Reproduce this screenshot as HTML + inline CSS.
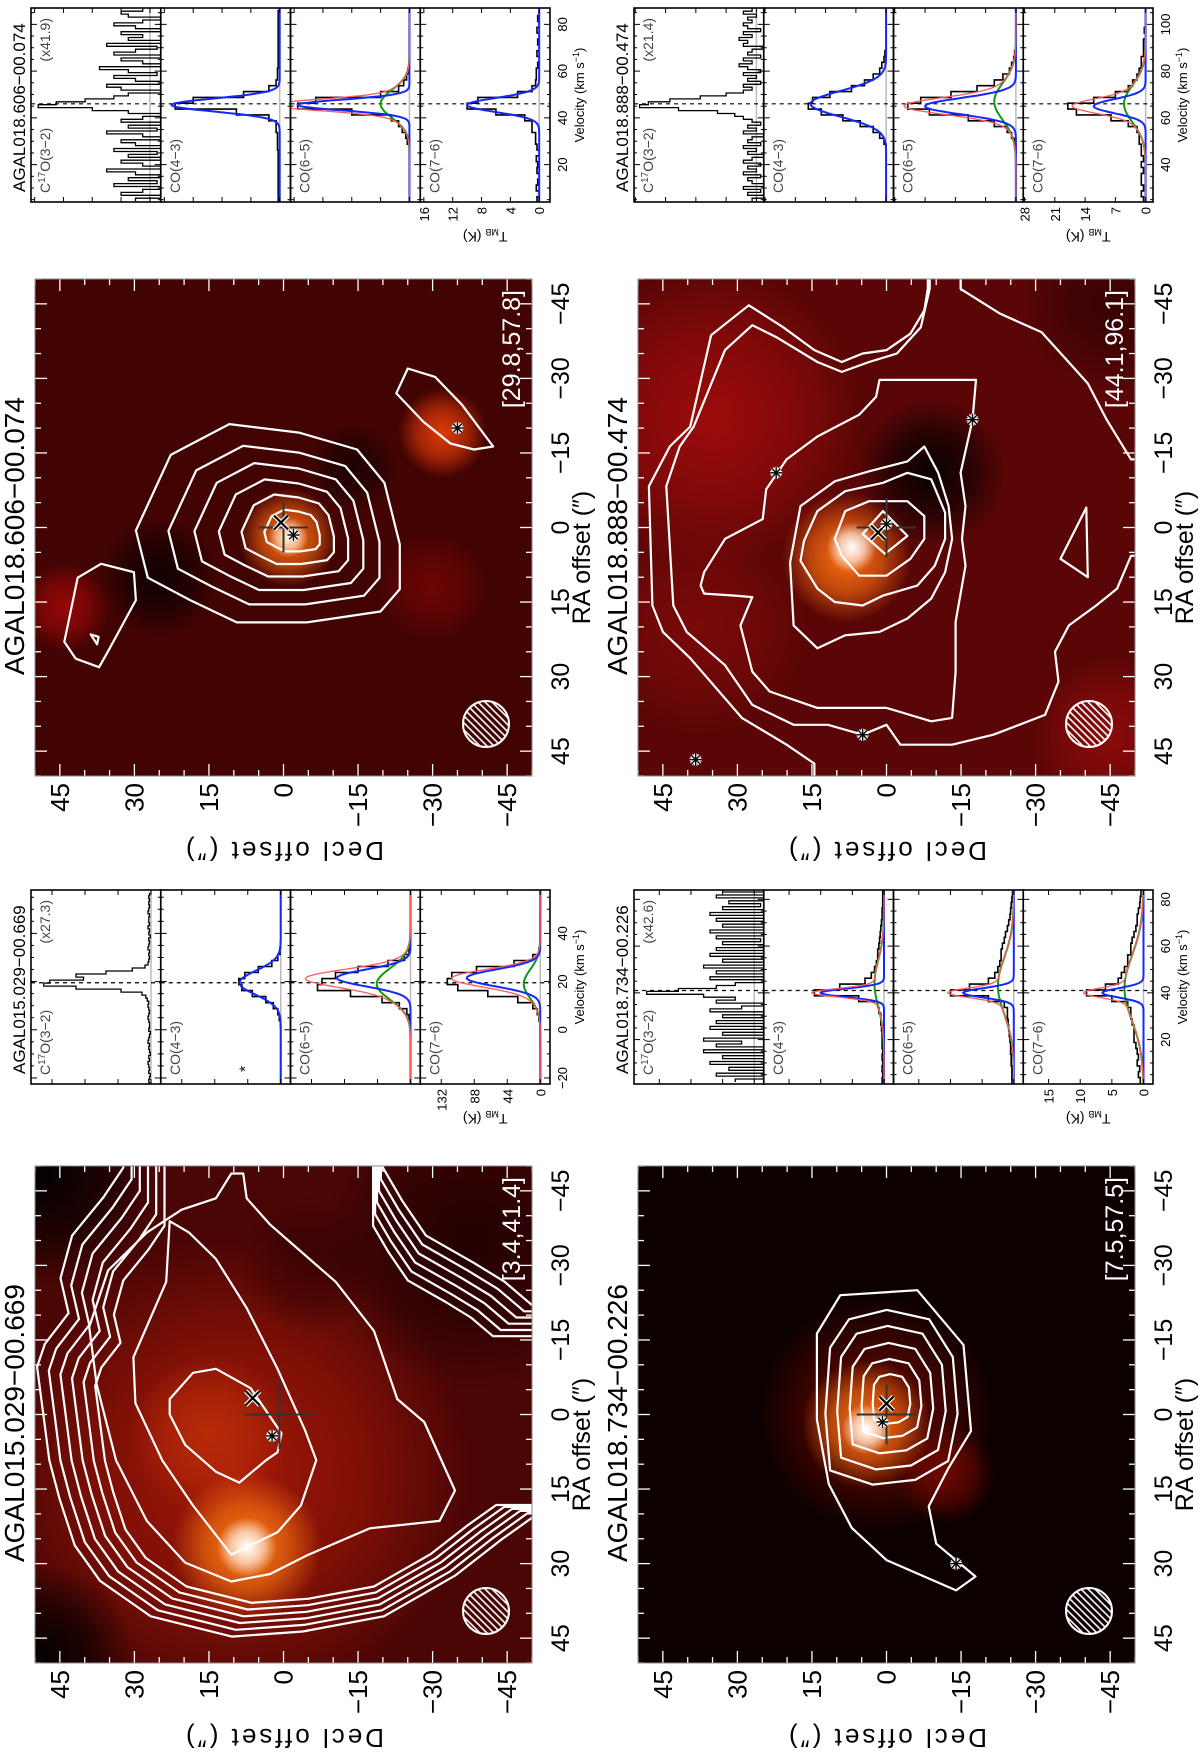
<!DOCTYPE html>
<html><head><meta charset="utf-8">
<style>
html,body{margin:0;padding:0;background:#fff;width:1200px;height:1753px;overflow:hidden}
#rot{position:absolute;left:0;top:0;width:1753px;height:1200px;transform-origin:0 0;transform:translateY(1753px) rotate(-90deg);overflow:hidden}
text{font-family:"Liberation Sans",sans-serif}
</style></head>
<body>
<div id="rot">
<svg id="fig" width="1753" height="1200" xmlns="http://www.w3.org/2000/svg" style="overflow:hidden"><defs id="defs"></defs></svg>
</div>
<script>
// ---------------- DATA ----------------
const vel015 = [-22.5, 2.5];
const vel606 = [5, 2.5];
const vel888 = [25, 2.5];
const vel734 = [2.5, 2.5];
const c17oStep = 1.25;
const vr015 = [-22.5, 58];
const vr606 = [4, 87];
const vr888 = [24, 107];
const vr734 = [1, 84];
const tr015 = [-13, 160];
const tr606 = [-1.5, 16.5];
const tr888 = [-1.7, 28.3];
const tr734 = [-1.5, 19];
const vt015 = [-20, 0, 20, 40];
const vt606 = [20, 40, 60, 80];
const vt888 = [40, 60, 80, 100];
const vt734 = [20, 40, 60, 80];
const tt015 = [0, 44, 88, 132];
const tt606 = [0, 4, 8, 12, 16];
const tt888 = [0, 7, 14, 21, 28];
const tt734 = [0, 5, 10, 15];
const vlsr = [19.5, 46, 41, 66];
const c17o015 = [2,3,2,1,3,2,3,4,2,3,1,2,3,2,4,3,2,1,3,2,2,3,4,3,2,3,4,3,5,7,12,40,100,143,135,90,100,60,25,8,4,3,2,3,2,4,3,2,3,1,3,2,4,2,3,3,2,4,3,2,3,2,3,2];
const co43015 = [0,0,0,0,0,0,0,0,0,0,0.5,2,4,10,20,38,52,56,48,30,12,4,1,0.5,0,0,0,0,0,0,0,0,0];
const co65015 = [0,0,0,0,0,0,0,0,0,0,0.5,2,5,15,38,80,124,118,100,70,30,8,2,0.5,0,0,0,0,0,0,0,0,0];
const co76015 = [0,0,0,0,0,0,0,0,0,0,0.5,2,4,10,30,70,110,124,118,85,35,10,2,0.5,0,0,0,0,0,0,0,0,0];
const c17o606 = [2,-3,4,1,-2,5,-1,3,-4,2,6,-2,1,4,-3,3,-1,5,-2,2,4,-3,1,6,-1,3,-2,4,1,-3,3,8,15.5,13,9,5,3,-2,4,6,-3,2,5,-1,3,7,-2,1,4,-3,5,2,-1,6,-2,3,1,4,-3,2,5,1,-2,3,4,1];
const co43606 = [0.2,0.2,0.2,0.2,0.2,0.2,0.2,0.2,0.2,0.3,0.3,0.3,0.5,0.5,1.5,6,14.5,12,5,1.5,0.5,0.3,0.3,0.2,0.2,0.2,0.2,0.2,0.2,0.2,0.2,0.2,0.2];
const co65606 = [0,0,0,0,0,0,0,0,0,0,0.3,0.5,1,1.5,2.5,8,15.5,13,4,1.5,0.8,0.4,0.2,0,0,0,0,0,0,0,0,0,0];
const co76606 = [0.3,0,0.4,0.2,0,0.3,0.2,0.4,0,0.3,0.5,0.5,1,1,2,6,10,8.5,3,1,0.5,0.4,0.4,0.2,0,0.3,0,0.2,0,0.3,0,0.2,0];
const c17o888 = [1,-2,2,-1,3,-2,1,2,-1,3,0,2,-1,3,1,-2,2,0,3,-1,2,1,-2,3,0,2,-1,1,3,5,9,18,27,25,20,13,7,3,1,3,-1,2,0,3,-1,2,4,1,3,-1,2,1,-2,3,2,4,1,3,-1,2,3,1,2,0,3,1];
const co43888 = [0,0,0,0,0,0,0,0,0,0,0.5,1.5,3,6,10,15,18,17,13,8,5,3,1.5,1,0.5,0.3,0,0,0,0,0,0,0];
const co65888 = [0,0,0,0,0,0,0,0,0,0,0.3,1,2,5,11,20,25,22,15,9,5,3,1.5,1,0.5,0.3,0,0,0,0,0,0,0];
const co76888 = [0.5,1,0.5,1,1,0.5,1,0.5,1,1,1.5,1.5,2,4,8,16,18,12,7,4,3,2,1.5,1,1,0.5,0.5,0.5,0,0.3,0,0,0];
const c17o734 = [3,-2,6,-3,4,-4,7,-2,5,-3,8,-4,6,2,8,-3,5,-4,7,-2,6,-3,5,-4,7,2,-3,6,3,8,17,12,6,3,-3,7,-4,6,-2,8,-3,5,-4,7,-2,6,-3,5,-1,6,-4,7,-2,5,-3,6,-2,7,-3,5,-1,4,-2,6,-3,5];
const co43734 = [0.3,0.2,0.3,0.2,0.3,0.2,0.3,0.3,0.3,0.4,0.5,0.5,0.8,1,4,11,7,3,2,1.5,1.2,1,1,0.8,0.7,0.6,0.5,0.4,0.3,0.3,0.2,0.2,0.2];
const co65734 = [0.3,0.3,0.3,0.4,0.4,0.5,0.5,0.6,0.7,0.8,0.9,1,1,1.5,4,10,7,4,3,2.5,2.2,2,2,1.8,1.5,1.3,1,0.8,0.6,0.5,0.4,0.3,0.2];
const co76734 = [0.5,0.8,0.6,1,0.8,1,1.2,1.5,1.5,1.5,1.8,2,2,2.5,5,9,6,4,3.5,3,2.5,2.5,2,2,1.8,1.5,1.2,1,1,0.8,0.6,0.5,0.4];
const fitBlue015 = [[55,19.5,5],[98,21.5,3.5],[98,21.5,3.5]];
const fitGreen015 = [null,[45,19,6.5],[22,19,6]];
const fitBlue606 = [[15,45.5,2.8],[15.5,45.5,2.3],[10,45.5,3]];
const fitGreen606 = [null,[4,46,6],null];
const fitBlue888 = [[17.5,66,5.5],[21,65,3.5],[12,65,3]];
const fitGreen888 = [null,[5,67,8],[5,66,8]];
const fitBlue734 = [[10,40,1.8],[8,40,2],[6.5,40,2]];
const fitGreen734 = [[1.5,44,10],[2.5,43,12],[3,42,14]];
const scales = ['(x27.3)','(x41.9)','(x42.6)','(x21.4)'];
const names = ['AGAL015.029\u221200.669','AGAL018.606\u221200.074','AGAL018.734\u221200.226','AGAL018.888\u221200.474'];
const brackets = ['[3.4,41.4]','[29.8,57.8]','[7.5,57.5]','[44.1,96.1]'];
const blobs015 = [[12,10,48,'#b01a08',0.85],[4,15,16,'#c03008',0.8],[26.7,7.4,15,'#ff7a10',1],[26.7,7.4,6,'#ffffff',1],[-48,48,22,'#000000',0.95],[48,48,18,'#000000',0.9],[-35,-38,30,'#1a0000',0.8],[-30,-5,14,'#300000',0.6]];
const blobs606 = [[2,-1,10,'#ff6a10',1],[2,-1,4,'#fff2d8',1],[-19,-32,9,'#e03a08',1],[16,44,9,'#a00808',0.9],[12,-30,11,'#8a0606',0.6],[10,25,12,'#000000',0.75],[-12,-14,9,'#000000',0.55]];
const blobs734 = [[0,2,24,'#6a0800',0.9],[12,-12,10,'#900a00',0.7],[2,4,13,'#ff7010',1],[3,4,5,'#ffffff',1]];
const blobs888 = [[-22,35,30,'#a80c0c',0.85],[20,38,22,'#900a0a',0.6],[42,-45,16,'#a00c0c',0.7],[-45,-45,18,'#2a0000',0.7],[-11,-9,15,'#000000',0.9],[6,8,13,'#ff7010',1],[4,7,5,'#ffffff',1]];
const k015 = [
 [[-3.1,22.9],[-8.4,18.2],[-9.2,13.6],[-5.3,6.6],[3.8,0.4],[7.6,1.2],[9.2,3.5],[13.7,8.9],[11.5,13.6],[6.1,19.8],[0,22.9]],
 [[-38.9,22.9],[-26.7,23.6],[-11.5,30.2],[-2.3,29.8],[9.2,24.4],[18.3,18.2],[28.2,10.5],[23.7,1.2],[18.3,-3.5],[9.2,-6.6],[3.1,-4.3],[-9.2,1.2],[-21.4,7.4],[-31.3,13.6],[-36.6,19]],
 [[-48.5,8.1],[-43.5,7.4],[-38.2,2.7],[-32.8,-3.5],[-26.7,-10.5],[-16.8,-18.2],[-3.1,-22.9],[1.5,-28.3],[15.3,-34.5],[21.4,-31.4],[22.9,-17.4],[28.2,-5],[32.1,2.7],[33.6,10.5],[29.8,19.8],[21.4,27.5],[9.2,33.7],[-6.1,37.6],[-17.6,39.1],[-29,35.3],[-36.6,27.5],[-41.2,20.5],[-43.5,13.6],[-48.5,10.5]]
];
const o015 = [[-60,31.4],[-48.5,31.4],[-42.7,35.3],[-35.1,41.5],[-26.7,43.8],[-19.8,42.2],[-13.7,46.9],[-9.2,48.4],[1.5,47],[9.2,46],[16.8,44],[26,41],[33,36],[40,26],[44,10],[43,-4],[40,-20],[32,-34],[25,-43],[20,-50],[20,-150],[150,-150],[150,150],[-150,150],[-150,-150],[-21.4,-150],[-21.4,-49.2],[-26,-43.8],[-29.8,-37.6],[-35.1,-28.3],[-42,-23.6],[-48.5,-19.8],[-150,-19.8],[-150,31.4]];
const o015scale = [0.82, 0.86, 0.9, 0.94, 0.98, 1.02];
const o015centre = [10, -10];
const o606 = [[0.6,29.7],[-14.6,22.7],[-20.8,10.9],[-19.1,-3.1],[-15.7,-14.8],[-9,-20.3],[3.4,-23.4],[12.4,-23.4],[16.9,-19.5],[19.1,-4.7],[19.1,9.4],[14.6,18.8],[10.1,27.3]];
const o606scale = [1, 0.8, 0.64, 0.49, 0.35, 0.21];
const k606 = [
 [[23,44.1],[10.1,41.4],[7.3,36.7],[9,30.1],[14.6,29.7],[24.7,35.2],[28.1,37.1],[26.4,41.8]],
 [[21.5,38.8],[23.5,37.5],[22,37.2]],
 [[-27,-22.7],[-32,-25],[-30.3,-30.5],[-24.7,-35.9],[-16.3,-42.2],[-15.7,-38.3],[-16.9,-33.6],[-21.3,-28.1]]
];
const o734 = [[-16.3,14],[-24,9.3],[-25,-6.2],[-14,-15.5],[3.3,-17],[10.9,-12.4],[18.5,-8.5],[26,-10],[32.6,-17.9],[35.4,-14],[29.3,0],[22.8,7],[14,11.6],[1,14]];
const i734 = [[12,12],[0,13],[-14,12],[-20,8],[-22,0],[-20,-9],[-12,-14],[0,-15],[10,-13],[14,-6],[15,3]];
const i734scale = [0.95, 0.78, 0.6, 0.43, 0.27];
const k888 = [
 [[-48,-8.3],[-43.7,-7.6],[-39,-4.8],[-35.7,0],[-35,4.8],[-33.3,9],[-35.7,14.5],[-40.3,20.8],[-44.7,27.7],[-38.7,35.3],[-20.3,39.5],[-16.3,43.6],[-8.3,47.8],[15.7,47.1],[21,45],[26.3,39.5],[38.3,29.1],[43.7,20.1],[47.5,14.5],[60,14.5],[60,-60],[-13.7,-60],[-13.7,-49.2],[-21.7,-44.3],[-29,-40.5],[-34,-36],[-39.3,-31.2],[-43,-22.9],[-48,-14.9],[-60,-14.9],[-60,-8.3]],
 [[-40.7,27],[-35.7,32.5],[-20.3,38.8],[-16.3,41.6],[-8.3,44.3],[15.7,42.9],[21,40.2],[27.7,32.5],[35.7,27],[39.7,18.7],[39.7,11.8],[41.7,4.8],[39.7,0],[43.7,-2.8],[43.7,-13.2],[41.7,-21.5],[37.7,-31.9],[31,-34.6],[25,-33.9],[19.7,-36.7],[15.7,-42.2],[12.3,-46.4],[5.7,-49.2],[5.7,-60],[-60,-60],[-60,-8.7],[-48,-8.7],[-40.3,-6.9],[-35,-2.1],[-33.3,3.5],[-31.3,9],[-33.3,13.9],[-38.3,22.2]],
 [[-18.3,13.9],[-13.7,20.1],[-7.7,24.2],[-1.7,24.9],[2.3,32.5],[9,36.7],[11.7,37.4],[13.3,36.7],[13.7,30.5],[14,27],[19.7,29.4],[29,27],[33,23.5],[36.3,13.9],[36.3,0],[39,-9],[38.3,-13.2],[29,-13.9],[19,-13.9],[7.7,-15.9],[2.3,-15.2],[-4.3,-15.9],[-11,-14.9],[-21.7,-17.3],[-29.7,-18],[-29.7,-8.3],[-29.7,1.4],[-26.3,2.1],[-22.7,5.5]],
 [[19.7,18.7],[7,19.4],[-4.3,17.3],[-9.3,10.4],[-11.3,3.5],[-13.3,-4.2],[-16.3,-7.6],[-11,-10.4],[-4.3,-12.5],[2.3,-13.2],[9,-11.8],[14.3,-9],[18.3,-4.2],[21,1.4],[21.7,8.3],[24.3,13.9]],
 [[6.7,17.3],[2.7,16.6],[-3.3,13.9],[-7.3,8.3],[-9,0.7],[-11,-4.2],[-9.7,-9],[-3,-11.8],[2.3,-11.8],[7.7,-9.7],[11.7,-6.2],[13.7,0.7],[15.7,4.8],[15,10.4],[12.3,13.9]],
 [[2.3,10.4],[-3.3,8.3],[-5.3,3.5],[-5.3,-4.2],[-2.3,-7.6],[2.3,-7.6],[6.3,-4.8],[9.7,0],[9.7,5.5],[5.7,9]],
 [[1.3,4.8],[-3.3,0.7],[1.7,-4.2],[5.3,0.3]],
 [[-4,-40.2],[6.3,-35],[10,-40.5]]
];
const mark015 = {x:[-3.3,6.2], s:[4.3,2.3], p:[0,0.8,7], a:[]};
const mark606 = {x:[-1,0.5], s:[1.5,-2], p:[0,0,5], a:[[-20,-35]]};
const mark734 = {x:[-2.2,0], s:[1.5,0.8], p:[0,0,6], a:[[30,-14]]};
const mark888 = {x:[1,1.7], s:[-0.7,0], p:[0,0,6], a:[[46.7,38.4],[-11,22.2],[41.7,4.8],[-21.7,-17.3]]};
const mapTicks = [45,30,15,0,-15,-30,-45];
const mapBg = ['#4a0505','#420303','#0c0000','#5a0606'];

// ---------------- LAYOUT ----------------
const NS = 'http://www.w3.org/2000/svg';
const svg = document.getElementById('fig');
const defs = document.getElementById('defs');
function mk(tag, attrs, parent){ const e=document.createElementNS(NS,tag); for(const k in attrs) e.setAttribute(k,attrs[k]); parent.appendChild(e); return e; }
const MW = 497;
const boxes = [
 {map:{x:90,y:35}, spec:{x:669,y:31}},
 {map:{x:977,y:35}, spec:{x:1551,y:31}},
 {map:{x:90,y:638}, spec:{x:669,y:634}},
 {map:{x:977,y:638}, spec:{x:1551,y:634}}
];
const SW = 194, SH = 519;
let gid = 0;
function scaleLoop(pts, c, f){ return pts.map(p=>[c[0]+(p[0]-c[0])*f, c[1]+(p[1]-c[1])*f]); }
const clampA = v => Math.max(-52, Math.min(52, v));

function drawMap(i, blobs, contours, marks){
 const b = boxes[i].map;
 const fx = ra => b.x + (50 - ra)/100*MW;
 const fy = dec => b.y + (50 - dec)/100*MW;
 const g = mk('g',{},svg);
 
 
 const cp = mk('clipPath',{id:'mc'+i},defs);
 mk('rect',{x:b.x,y:b.y,width:MW,height:MW},cp);
 const inner = mk('g',{'clip-path':'url(#mc'+i+')'},g);
 const bg = mk('rect',{x:b.x,y:b.y,width:MW,height:MW,fill:mapBg[i]},inner);
 
 
 blobs.forEach(bl=>{
  const id='bg'+(gid++);
  const rg = mk('radialGradient',{id:id},defs);
  mk('stop',{offset:'0%','stop-color':bl[3],'stop-opacity':bl[4]},rg);
  mk('stop',{offset:'55%','stop-color':bl[3],'stop-opacity':bl[4]*0.6},rg);
  mk('stop',{offset:'100%','stop-color':bl[3],'stop-opacity':0},rg);
  const c = mk('circle',{cx:fx(bl[0]),cy:fy(bl[1]),r:bl[2]/100*MW,fill:'url(#'+id+')'},inner);
  
  
 });
 contours.forEach(ct=>{
  const d = ct.map((p,k)=>(k?'L':'M')+fx(clampA(p[0])).toFixed(1)+' '+fy(clampA(p[1])).toFixed(1)).join(' ')+' Z';
  const pth = mk('path',{d:d,fill:'none',stroke:'#fff','stroke-width':2.2,'stroke-linejoin':'round'},inner);
  
  
 });
 const p = marks.p;
 const pc = mk('g',{stroke:'#333','stroke-width':2},inner);
 
 
 mk('line',{x1:fx(p[0]+p[2]),y1:fy(p[1]),x2:fx(p[0]-p[2]),y2:fy(p[1])},pc);
 mk('line',{x1:fx(p[0]),y1:fy(p[1]+p[2]),x2:fx(p[0]),y2:fy(p[1]-p[2])},pc);
 const xm = mk('g',{},inner);
 
 
 const X=fx(marks.x[0]), Y=fy(marks.x[1]);
 [['#fff',4.5],['#000',2.2]].forEach(s=>{
  mk('line',{x1:X-7,y1:Y-7,x2:X+7,y2:Y+7,stroke:s[0],'stroke-width':s[1]},xm);
  mk('line',{x1:X-7,y1:Y+7,x2:X+7,y2:Y-7,stroke:s[0],'stroke-width':s[1]},xm);
 });
 const stars = [marks.s].concat(marks.a);
 stars.forEach(s=>{
  const sg = mk('g',{},inner);
  
  
  const sx=fx(s[0]), sy=fy(s[1]);
  [['#fff',3.5],['#000',1.4]].forEach(st=>{
   for(let a=0;a<4;a++){ const ang=a*Math.PI/4; mk('line',{x1:sx-6*Math.cos(ang),y1:sy-6*Math.sin(ang),x2:sx+6*Math.cos(ang),y2:sy+6*Math.sin(ang),stroke:st[0],'stroke-width':st[1]},sg); }
  });
 });
 const bm = mk('g',{},g);
 
 
 const bx=b.x+52, by=b.y+MW-46, br=23;
 const bcp = mk('clipPath',{id:'bc'+i},defs);
 mk('circle',{cx:bx,cy:by,r:br},bcp);
 const hg = mk('g',{'clip-path':'url(#bc'+i+')',stroke:'#fff','stroke-width':1.6},bm);
 for(let k=-4;k<=4;k++){ mk('line',{x1:bx+k*7-30,y1:by+30,x2:bx+k*7+30,y2:by-30},hg); }
 mk('circle',{cx:bx,cy:by,r:br,fill:'none',stroke:'#fff','stroke-width':2},bm);
 const tk = mk('g',{stroke:'#fff','stroke-width':1.3},g);
 
 
 for(let v=-50; v<=50; v+=5){
  const L = (v%15===0)?12:6;
  const X2=fx(v), Y2=fy(v);
  mk('line',{x1:X2,y1:b.y,x2:X2,y2:b.y+L},tk);
  mk('line',{x1:X2,y1:b.y+MW,x2:X2,y2:b.y+MW-L},tk);
  mk('line',{x1:b.x,y1:Y2,x2:b.x+L,y2:Y2},tk);
  mk('line',{x1:b.x+MW,y1:Y2,x2:b.x+MW-L,y2:Y2},tk);
 }
 mk('rect',{x:b.x,y:b.y,width:MW,height:MW,fill:'none',stroke:'#888','stroke-width':1},g);
 mapTicks.forEach(t=>{
  const lr = mk('text',{x:fx(t),y:b.y+MW+37,'font-size':25,'text-anchor':'middle',fill:'#000'},g);
  lr.textContent = t<0?'\u2212'+(-t):String(t);
  
  
  const ld = mk('text',{x:b.x-7,y:fy(t)+9,'font-size':26,'text-anchor':'end',fill:'#000'},g);
  ld.textContent = t<0?'\u2212'+(-t):String(t);
  
  
 });
 const rt = mk('text',{x:b.x+MW/2-30,y:b.y+MW+58,'font-size':25,'text-anchor':'middle',fill:'#000'},g);
 rt.textContent='RA offset (\u2033)';
 
 
 const dt = mk('text',{x:0,y:0,'font-size':26,'text-anchor':'middle',fill:'#000','letter-spacing':'3',transform:'translate('+(b.x-66)+','+(b.y+MW/2)+') rotate(-90)'},g);
 dt.textContent='Decl offset (\u2033)';
 
 
 const tt = mk('text',{x:b.x+101,y:b.y-11,'font-size':28,fill:'#000'},g);
 tt.textContent=names[i];
 
 
 const bk = mk('text',{x:b.x+MW-11,y:b.y+MW-12,'font-size':25,'text-anchor':'end',fill:'#fff'},g);
 bk.textContent=brackets[i];
 
 
}

function gauss(p,v){ return p? p[0]*Math.exp(-0.5*Math.pow((v-p[1])/p[2],2)) : 0; }

function drawSpectra(i, velg, vr, tr, vt, tt, spectra, blue, green, vsys){
 const b = boxes[i].spec;
 const ph = SH/4;
 const sx = v => b.x + (v - vr[0])/(vr[1]-vr[0])*SW;
 const g = mk('g',{},svg);
 
 
 const labels = ['C','CO(4\u22123)','CO(6\u22125)','CO(7\u22126)'];
 for(let k=0;k<4;k++){
  const top = b.y + k*ph;
  const sy = T => top + (tr[1]-T)/(tr[1]-tr[0])*ph;
  const pg = mk('g',{},g);
  
  
  const cp = mk('clipPath',{id:'sc'+i+'_'+k},defs);
  mk('rect',{x:b.x,y:top,width:SW,height:ph},cp);
  const inner = mk('g',{'clip-path':'url(#sc'+i+'_'+k+')'},pg);
  const base = mk('line',{x1:b.x,y1:sy(0),x2:b.x+SW,y2:sy(0),stroke:'#bbb','stroke-width':1.5},inner);
  
  
  const dv = mk('line',{x1:sx(vsys),y1:top,x2:sx(vsys),y2:top+ph,stroke:'#000','stroke-width':1.2,'stroke-dasharray':'4,4'},inner);
  
  
  const data = spectra[k];
  const step = k===0 ? c17oStep : velg[1];
  let d='';
  data.forEach((T,j)=>{
   const v = velg[0]+j*step;
   const x1=sx(v-step/2), x2=sx(v+step/2), y=sy(T);
   d += (j? ' L':'M')+x1.toFixed(1)+' '+y.toFixed(1) + ' L'+x2.toFixed(1)+' '+y.toFixed(1);
  });
  const hist = mk('path',{d:d,fill:'none',stroke:'#000','stroke-width':k===0?1.3:1.6},inner);
  
  
  if(k>0){
   const bp = blue[k-1], gp = green[k-1];
   const curves = [];
   if(gp) curves.push(['#109a10', v=>gauss(gp,v), 'fit-broad-component']);
   curves.push(['#1428ff', v=>gauss(bp,v), 'fit-narrow-component']);
   if(gp) curves.push(['#ff5a5a', v=>gauss(gp,v)+gauss(bp,v), 'fit-total']);
   curves.forEach(c=>{
    let pd='';
    for(let v=vr[0]; v<=vr[1]; v+=0.25){ pd += (pd?' L':'M')+sx(v).toFixed(1)+' '+Math.max(top-2,sy(c[1](v))).toFixed(1); }
    const cv = mk('path',{d:pd,fill:'none',stroke:c[0],'stroke-width':c[0]==='#ff5a5a'?1.3:2},inner);
    
    
   });
  }
  const tg = mk('g',{stroke:'#000','stroke-width':1},pg);
  for(let v=Math.ceil(vr[0]/5)*5; v<=vr[1]; v+=5){
   const L = v%20===0?6:3;
   mk('line',{x1:sx(v),y1:top,x2:sx(v),y2:top+L},tg);
   mk('line',{x1:sx(v),y1:top+ph,x2:sx(v),y2:top+ph-L},tg);
  }
  tt.forEach(t=>{ mk('line',{x1:b.x,y1:sy(t),x2:b.x+5,y2:sy(t)},tg); mk('line',{x1:b.x+SW,y1:sy(t),x2:b.x+SW-5,y2:sy(t)},tg); });
  mk('rect',{x:b.x,y:top,width:SW,height:ph,fill:'none',stroke:'#000','stroke-width':1.6},pg);
  const lt = mk('text',{x:b.x+9,y:top+19,'font-size':14,fill:'#444'},pg);
  
  
  if(k===0){
   lt.textContent='C';
   const sp = mk('tspan',{dy:-5,'font-size':10},lt); sp.textContent='17';
   const sp2 = mk('tspan',{dy:5},lt); sp2.textContent='O(3\u22122)';
   const sc = mk('text',{x:b.x+SW-10,y:top+19,'font-size':14,'text-anchor':'end',fill:'#444'},pg);
   sc.textContent=scales[i];
   
   
  } else lt.textContent=labels[k];
  if(k===3){
   tt.forEach(t=>{
    const tl = mk('text',{x:b.x-5,y:sy(t)+5,'font-size':13,'text-anchor':'end',fill:'#000'},g);
    tl.textContent=String(t);
    
    
   });
   const ty = mk('text',{x:0,y:0,'font-size':14,'text-anchor':'middle',fill:'#000',transform:'translate('+(b.x-30)+','+(top+ph/2)+') rotate(-90)'},g);
   ty.textContent='T';
   const ts = mk('tspan',{'font-size':9,dy:3},ty); ts.textContent='MB';
   const ts2 = mk('tspan',{dy:-3},ty); ts2.textContent=' (K)';
   
   
  }
 }
 vt.forEach(v=>{
  const vl = mk('text',{x:sx(v),y:b.y+SH+17,'font-size':13,'text-anchor':'middle',fill:'#000'},g);
  vl.textContent = v<0?'\u2212'+(-v):String(v);
  
  
 });
 const vtit = mk('text',{x:b.x+SW/2+10,y:b.y+SH+34,'font-size':13,'text-anchor':'middle',fill:'#000'},g);
 vtit.textContent='Velocity (km s';
 const vs = mk('tspan',{dy:-5,'font-size':9},vtit); vs.textContent='\u22121';
 const vs2 = mk('tspan',{dy:5},vtit); vs2.textContent=')';
 
 
 const st = mk('text',{x:b.x+10,y:b.y-6,'font-size':17,fill:'#000'},g);
 st.textContent=names[i];
 
 
}

const c015 = k015.concat(o015scale.map(f=>scaleLoop(o015,o015centre,f)));
const c606 = o606scale.map(f=>scaleLoop(o606,[1,-3],f)).concat(k606);
const c734 = [o734].concat(i734scale.map(f=>scaleLoop(i734,[-3,-1],f)));
const c888 = k888;

drawMap(0, blobs015, c015, mark015);
drawMap(1, blobs606, c606, mark606);
drawMap(2, blobs734, c734, mark734);
drawMap(3, blobs888, c888, mark888);

drawSpectra(0, vel015, vr015, tr015, vt015, tt015, [c17o015,co43015,co65015,co76015], fitBlue015, fitGreen015, vlsr[0]);
drawSpectra(1, vel606, vr606, tr606, vt606, tt606, [c17o606,co43606,co65606,co76606], fitBlue606, fitGreen606, vlsr[1]);
drawSpectra(2, vel734, vr734, tr734, vt734, tt734, [c17o734,co43734,co65734,co76734], fitBlue734, fitGreen734, vlsr[2]);
drawSpectra(3, vel888, vr888, tr888, vt888, tt888, [c17o888,co43888,co65888,co76888], fitBlue888, fitGreen888, vlsr[3]);

const ast = mk('text',{x:boxes[0].spec.x+12,y:boxes[0].spec.y+SH/2-40,'font-size':16,fill:'#000'},svg);
ast.textContent='*';


</script>
</body></html>
